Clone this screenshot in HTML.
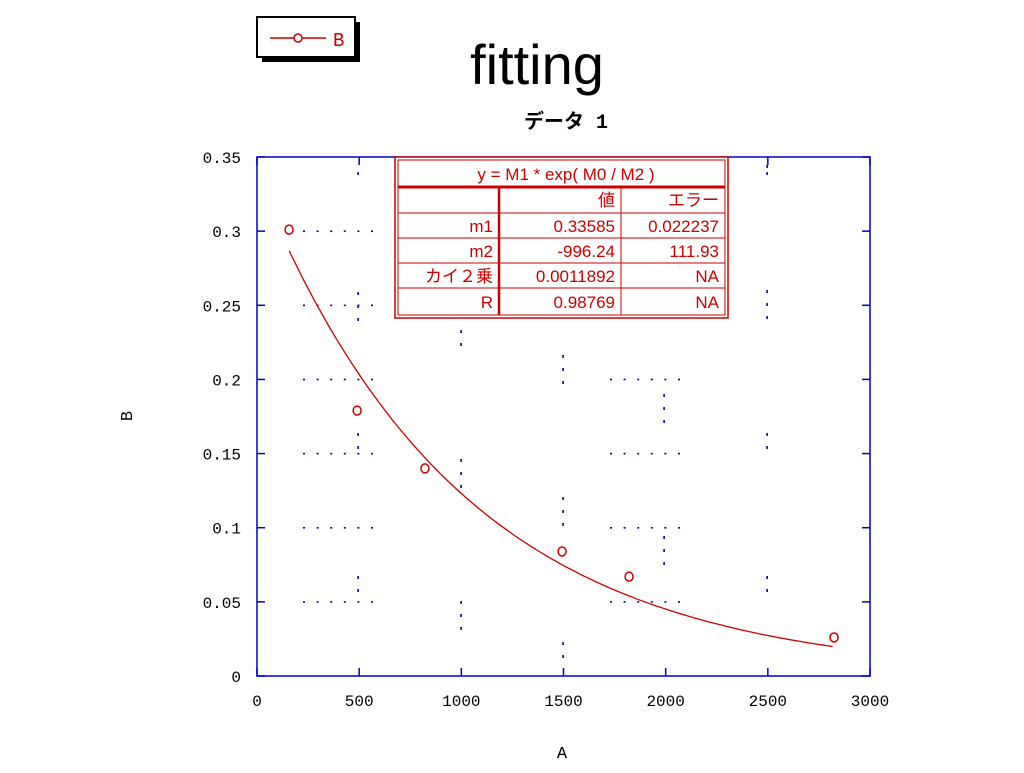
<!DOCTYPE html>
<html><head><meta charset="utf-8"><style>
body{margin:0;background:#fff;width:1024px;height:768px;overflow:hidden}
text{font-family:"Liberation Sans","Noto Sans CJK JP",sans-serif}
.m{font-family:"Liberation Mono","Noto Sans CJK JP",monospace}
</style></head><body>
<svg width="1024" height="768">
<g>
<rect x="262" y="22" width="98" height="40" fill="#000"/>
<rect x="257" y="17" width="98" height="40" fill="#fff" stroke="#000" stroke-width="2"/>
<line x1="270" y1="38" x2="326" y2="38" stroke="#c00" stroke-width="1.5"/>
<circle cx="298" cy="38" r="4" fill="#fff" stroke="#c00" stroke-width="1.5"/>
<text x="333" y="46" font-size="19" fill="#c00" class="m">B</text>
</g>
<text x="537" y="84" font-size="56" text-anchor="middle">fitting</text>
<text x="566" y="128" font-size="20" font-weight="bold" text-anchor="middle" class="m">データ 1</text>
<g id="grid"></g>
<rect x="257" y="157" width="613" height="519" fill="none" stroke="#00c" stroke-width="1.5"/>
<g id="axes"></g>
<polyline id="fit" fill="none" stroke="#c00" stroke-width="1.3"/>
<g id="pts"></g>
<text x="562" y="758" font-size="17" text-anchor="middle" class="m">A</text>
<text x="132" y="416" font-size="17" text-anchor="middle" class="m" transform="rotate(-90 132 416)">B</text>
<g fill="#c00" font-size="17" class="m">
<rect x="395" y="157" width="333" height="161" fill="#fff" stroke="#c00" stroke-width="1.5"/>
<rect x="398" y="160" width="327" height="155" fill="none" stroke="#c00" stroke-width="1"/>
<line x1="398" y1="187" x2="725" y2="187" stroke="#c00" stroke-width="3"/>
<line x1="398" y1="213" x2="725" y2="213" stroke="#c00" stroke-width="1"/>
<line x1="398" y1="238" x2="725" y2="238" stroke="#c00" stroke-width="1"/>
<line x1="398" y1="263" x2="725" y2="263" stroke="#c00" stroke-width="1"/>
<line x1="398" y1="288" x2="725" y2="288" stroke="#c00" stroke-width="1"/>
<line x1="499" y1="187" x2="499" y2="315" stroke="#c00" stroke-width="2.5"/>
<line x1="621" y1="187" x2="621" y2="315" stroke="#c00" stroke-width="1"/>
<text x="566" y="180" text-anchor="middle">y = M1 * exp( M0 / M2 )</text>
<g text-anchor="end">
<text x="615" y="206">値</text><text x="719" y="206">エラー</text>
<text x="493" y="232">m1</text><text x="615" y="232">0.33585</text><text x="719" y="232">0.022237</text>
<text x="493" y="257">m2</text><text x="615" y="257">-996.24</text><text x="719" y="257">111.93</text>
<text x="493" y="282">カイ２乗</text><text x="615" y="282">0.0011892</text><text x="719" y="282">NA</text>
<text x="493" y="308">R</text><text x="615" y="308">0.98769</text><text x="719" y="308">NA</text>
</g></g>
</svg>
<script>
const xTicks=[0,500,1000,1500,2000,2500,3000];
const yTicks=[0,0.05,0.1,0.15,0.2,0.25,0.3,0.35];
const yTickLabels=["0","0.05","0.1","0.15","0.2","0.25","0.3","0.35"];
const ptsA=[157,490,822,1493,1821,2824];
const ptsB=[0.301,0.179,0.140,0.084,0.067,0.026];
const fitM1=0.33585, fitM2=-996.24;
const fitRange=[157,2824];
const NS="http://www.w3.org/2000/svg";
const X=v=>257+v/3000*613, Y=v=>676-v/0.35*519;
function mk(t,a,p){const e=document.createElementNS(NS,t);for(const k in a)e.setAttribute(k,a[k]);p.appendChild(e);return e;}
const ax=document.getElementById('axes');
xTicks.forEach(v=>{const x=X(v);
 const l=mk('line',{x1:x,y1:676,x2:x,y2:668,stroke:'#00c','stroke-width':1.5},ax);
 mk('line',{x1:x,y1:157,x2:x,y2:165,stroke:'#00c','stroke-width':1.5},ax);
 const t=mk('text',{x:x,y:706,'font-size':16,'text-anchor':'middle',class:'m'},ax);t.textContent=v;});
yTicks.forEach((v,i)=>{const y=Y(v);
 const l=mk('line',{x1:257,y1:y,x2:265,y2:y,stroke:'#00c','stroke-width':1.5},ax);
 mk('line',{x1:862,y1:y,x2:870,y2:y,stroke:'#00c','stroke-width':1.5},ax);
 const t=mk('text',{x:241,y:y+6,'font-size':16,'text-anchor':'end',class:'m'},ax);t.textContent=yTickLabels[i];});
const g=document.getElementById('grid');
function hd(x0,x1,y){for(let x=x0;x<=x1;x+=13.6)mk('rect',{x:x,y:y-0.7,width:2,height:1.6,fill:'#00a'},g);}
function vd(x,ys){ys.forEach(y=>mk('rect',{x:x-0.7,y:y,width:1.6,height:3,fill:'#00a'},g));}
[0.3,0.25,0.2,0.15,0.1,0.05].forEach(v=>hd(303,375,Y(v)));
[0.2,0.15,0.1,0.05].forEach(v=>hd(610,680,Y(v)));
vd(358,[172,292,305,318,433,446,576,589]);
vd(461,[330,343,459,472,485,601,614,627]);
vd(563,[355,368,381,497,510,523,642,655]);
vd(664,[394,407,420,536,549,562]);
vd(767,[165,172,290,303,316,433,446,576,589]);
const pts=[];for(let a=fitRange[0];a<=fitRange[1];a+=20)pts.push(X(a).toFixed(1)+','+Y(fitM1*Math.exp(a/fitM2)).toFixed(1));
document.getElementById('fit').setAttribute('points',pts.join(' '));
const pg=document.getElementById('pts');
ptsA.forEach((a,i)=>{const c=mk('ellipse',{cx:X(a),cy:Y(ptsB[i]),rx:4,ry:4.5,fill:'none',stroke:'#c00','stroke-width':1.5},pg);
 
 });
</script>
</body></html>
